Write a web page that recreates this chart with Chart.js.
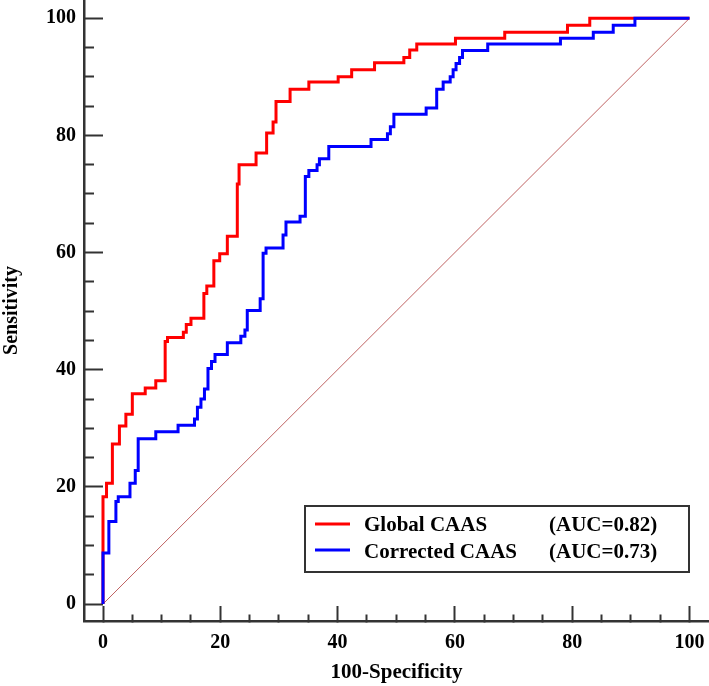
<!DOCTYPE html>
<html><head><meta charset="utf-8">
<script src="https://cdn.jsdelivr.net/npm/chart.js@4.4.1/dist/chart.umd.min.js"></script>
<style>html,body{margin:0;padding:0;background:#fff}#wrap{width:709px;height:686px;position:relative}</style>
</head><body><div id="wrap"><canvas id="c" width="709" height="686"></canvas></div>
<script>
// ---- data ----
const seriesNames = ['Global CAAS', 'Corrected CAAS'];
const aucLabels = ['(AUC=0.82)', '(AUC=0.73)'];
const seriesColors = ['#ff0000', '#0000ff'];

const globalFPR = [0, 0, 0.6, 1.6, 2.8, 3.9, 5.0, 7.2, 9.0, 10.6, 11.0, 13.7, 14.2, 15.0, 17.2, 17.7, 18.9, 19.9, 21.2, 22.9, 23.2, 26.1, 27.9, 29.0, 29.5, 31.9, 35.1, 40.1, 42.4, 46.3, 51.3, 52.3, 53.5, 60.1, 68.5, 79.2, 83.0, 100];
const globalTPR = [0, 18.3, 20.6, 27.3, 30.4, 32.4, 35.9, 36.9, 38.1, 44.8, 45.5, 46.4, 47.7, 48.8, 53.0, 54.3, 58.6, 59.8, 62.8, 71.7, 75.0, 77.0, 80.4, 82.3, 85.8, 87.9, 89.1, 90.0, 91.2, 92.4, 93.3, 94.6, 95.6, 96.6, 97.6, 98.8, 100, 100];

const correctedFPR = [0, 0, 1.0, 2.2, 2.6, 4.6, 5.5, 6.0, 9.0, 12.8, 15.6, 16.1, 16.7, 17.3, 17.9, 18.5, 19.1, 21.2, 23.5, 24.2, 24.6, 26.8, 27.3, 27.8, 30.7, 31.2, 33.6, 34.5, 35.1, 36.5, 36.9, 38.5, 45.7, 48.5, 49.0, 49.6, 55.1, 56.9, 58.0, 59.2, 59.7, 60.2, 60.8, 61.3, 65.6, 78.0, 83.6, 87.0, 90.7, 100];
const correctedTPR = [0, 8.7, 14.1, 17.5, 18.3, 20.6, 22.8, 28.2, 29.4, 30.5, 31.6, 33.6, 35.0, 36.7, 40.2, 41.4, 42.6, 44.6, 45.7, 46.8, 50.1, 52.1, 59.9, 60.8, 63.0, 65.2, 66.2, 73.0, 74.0, 75.0, 76.0, 78.1, 79.3, 80.3, 81.5, 83.6, 84.7, 87.9, 89.1, 90.0, 91.2, 92.3, 93.3, 94.5, 95.6, 96.6, 97.6, 98.8, 100, 100];

const refLineX = [0, 100];
const refLineY = [0, 100];

const tickValues = [0, 5, 10, 15, 20, 25, 30, 35, 40, 45, 50, 55, 60, 65, 70, 75, 80, 85, 90, 95, 100];
const majorTickValues = [0, 20, 40, 60, 80, 100];
const xTitle = '100-Specificity';
const yTitle = 'Sensitivity';

// ---- build ----
const toPts = (xs, ys) => xs.map((x, i) => ({x: x, y: ys[i]}));
const isMajor = v => majorTickValues.includes(Math.round(v * 1000) / 1000);
const FONT = 'Liberation Serif';
const axisColor = '#333333';

const legendPlugin = {
  id: 'boxLegend',
  afterDraw(chart) {
    const ctx = chart.ctx;
    ctx.save();
    ctx.strokeStyle = axisColor;
    ctx.lineWidth = 2;
    ctx.strokeRect(305, 506, 384, 66);
    ctx.font = 'bold 21px "' + FONT + '"';
    ctx.fillStyle = '#000';
    ctx.textBaseline = 'alphabetic';
    const rowsLineY = [524, 550];
    const rowsTextY = [531, 557.5];
    for (let i = 0; i < seriesNames.length; i++) {
      ctx.strokeStyle = seriesColors[i];
      ctx.lineWidth = 3;
      ctx.beginPath();
      ctx.moveTo(315, rowsLineY[i]);
      ctx.lineTo(350, rowsLineY[i]);
      ctx.stroke();
      ctx.textAlign = 'left';
      ctx.fillText(seriesNames[i], 364, rowsTextY[i]);
      ctx.fillText(aucLabels[i], 549, rowsTextY[i]);
    }
    ctx.restore();
  }
};

const bgPlugin = {
  id: 'bg',
  beforeDraw(chart) {
    const ctx = chart.ctx;
    ctx.save(); ctx.fillStyle = '#fff'; ctx.fillRect(0, 0, chart.width, chart.height); ctx.restore();
  }
};

new Chart(document.getElementById('c'), {
  type: 'scatter',
  data: {
    datasets: [
      {label: seriesNames[1], data: toPts(correctedFPR, correctedTPR), showLine: true, stepped: 'before',
       borderColor: seriesColors[1], borderWidth: 3, pointRadius: 0, fill: false, order: 0},
      {label: seriesNames[0], data: toPts(globalFPR, globalTPR), showLine: true, stepped: 'before',
       borderColor: seriesColors[0], borderWidth: 3, pointRadius: 0, fill: false, order: 1},
      {label: 'reference', data: toPts(refLineX, refLineY), showLine: true,
       borderColor: 'rgba(180,70,70,0.85)', borderWidth: 1, pointRadius: 0, fill: false, order: 2}
    ]
  },
  options: {
    responsive: false,
    animation: false,
    layout: {padding: 0},
    plugins: {legend: {display: false}, tooltip: {enabled: false}},
    scales: {
      x: {
        type: 'linear', position: 'bottom',
        min: -3.24, max: 103.33,
        afterFit(s) { s.height = 65; s.paddingLeft = 0; s.paddingRight = 0; },
        afterBuildTicks(s) { s.ticks = tickValues.map(v => ({value: v})); },
        border: {display: true, color: axisColor, width: 2.5},
        grid: {display: true, drawOnChartArea: false, drawTicks: true, tickLength: -15,
               tickColor: axisColor, tickWidth: 2,
               tickBorderDash: c => (c.tick && isMajor(c.tick.value)) ? [] : [8, 100]},
        ticks: {autoSkip: false, maxRotation: 0, padding: 25, color: '#000',
                font: {family: FONT, size: 20, weight: 'bold'},
                callback: v => isMajor(v) ? String(v) : ''},
        title: {display: true, text: xTitle, color: '#000', padding: {top: 0, bottom: 1},
                font: {family: FONT, size: 21, weight: 'bold'}}
      },
      y: {
        type: 'linear', position: 'left',
        min: -2.90, max: 103.12,
        afterFit(s) { s.width = 84; s.paddingTop = 0; s.paddingBottom = 0; },
        afterBuildTicks(s) { s.ticks = tickValues.map(v => ({value: v})); },
        border: {display: true, color: axisColor, width: 2.5},
        grid: {display: true, drawOnChartArea: false, drawTicks: true, tickLength: -19,
               tickColor: axisColor, tickWidth: 2,
               tickBorderDash: c => (c.tick && isMajor(c.tick.value)) ? [] : [0, 9, 20, 100]},
        ticks: {autoSkip: false, padding: 27, color: '#000',
                font: {family: FONT, size: 20, weight: 'bold'},
                callback: v => isMajor(v) ? String(v) : ''},
        title: {display: true, text: yTitle, color: '#000', padding: {top: 0, bottom: 0},
                font: {family: FONT, size: 20, weight: 'bold'}}
      }
    }
  },
  plugins: [bgPlugin, legendPlugin]
});
</script>
</body></html>
